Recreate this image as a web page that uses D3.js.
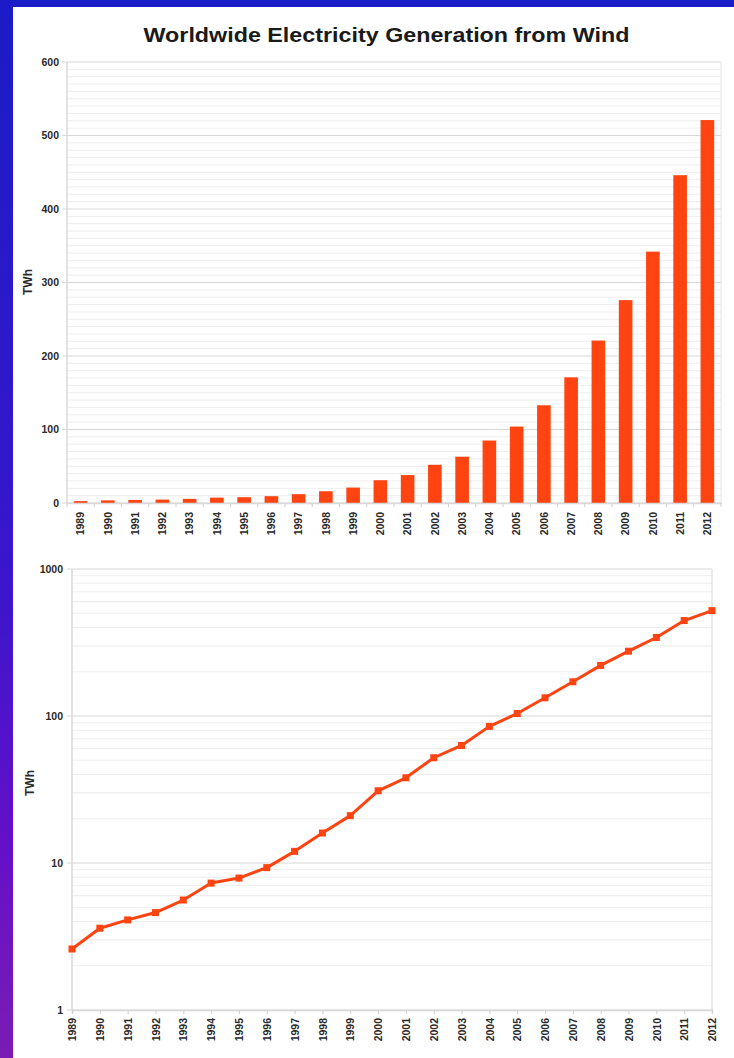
<!DOCTYPE html>
<html>
<head>
<meta charset="utf-8">
<script src="https://cdn.jsdelivr.net/npm/d3@7"></script>
<style>
  html, body { margin: 0; padding: 0; }
  body { width: 734px; height: 1058px; overflow: hidden; }
  svg { display: block; }
</style>
</head>
<body>
<svg id="chart" width="734" height="1058"></svg>
<script>
// Worldwide wind electricity generation, TWh per year
const years = ["1989","1990","1991","1992","1993","1994","1995","1996","1997","1998","1999","2000",
               "2001","2002","2003","2004","2005","2006","2007","2008","2009","2010","2011","2012"];
const generationTWh = [2.6, 3.6, 4.1, 4.6, 5.6, 7.3, 7.9, 9.3, 12.0, 16.0, 21.0, 31.0,
                       38.0, 52.0, 63.0, 85.0, 104.0, 133.0, 171.0, 221.0, 276.0, 342.0, 446.0, 521.0];
const linearTicks = [0, 100, 200, 300, 400, 500, 600];
const logTicks = [1, 10, 100, 1000];

const svg = d3.select("#chart");
const W = 734, H = 1058;
const accent = "#ff4411";
const labelColor = "#2a2a2a";
const font = "Liberation Sans, Arial, sans-serif";
const tickFont = 10.5;

// Frame: blue-to-violet gradient behind a white panel
const defs = svg.append("defs");
const grad = defs.append("linearGradient").attr("id", "frame")
  .attr("x1", 0).attr("y1", 0).attr("x2", 0).attr("y2", 1);
grad.append("stop").attr("offset", "0%").attr("stop-color", "#1a1cc8");
grad.append("stop").attr("offset", "55%").attr("stop-color", "#3a16cc");
grad.append("stop").attr("offset", "80%").attr("stop-color", "#6410c8");
grad.append("stop").attr("offset", "100%").attr("stop-color", "#7a1cb4");
svg.append("rect").attr("width", W).attr("height", H).attr("fill", "url(#frame)");
svg.append("rect").attr("x", 13).attr("y", 7).attr("width", W - 13).attr("height", H - 7).attr("fill", "#fff");

// Title, set slightly wide
svg.append("text")
  .attr("transform", "translate(386.5,42) scale(1.165,1)")
  .attr("text-anchor", "middle")
  .attr("font-family", font)
  .attr("font-weight", "bold").attr("font-size", 20)
  .attr("fill", "#1a1a1a")
  .text("Worldwide Electricity Generation from Wind");

// ---------- Linear bar chart ----------
const upper = { left: 67, right: 721, top: 62, bottom: 503 };
const xBand = d3.scaleBand().domain(years).range([upper.left, upper.right]).paddingInner(0.5).paddingOuter(0.25);
const yLin = d3.scaleLinear().domain([0, 600]).range([upper.bottom, upper.top]);

const g1 = svg.append("g");
// minor gridlines every 10 TWh
g1.append("g").selectAll("line").data(d3.range(10, 600, 10).filter(v => v % 100 !== 0))
  .join("line")
  .attr("x1", upper.left).attr("x2", upper.right)
  .attr("y1", d => yLin(d)).attr("y2", d => yLin(d))
  .attr("stroke", "#eeeeee").attr("stroke-width", 1);
// major gridlines
g1.append("g").selectAll("line").data(linearTicks)
  .join("line")
  .attr("x1", upper.left - 5).attr("x2", upper.right)
  .attr("y1", d => yLin(d)).attr("y2", d => yLin(d))
  .attr("stroke", "#d8d8d8").attr("stroke-width", 1.2);
// plot border lines
g1.append("line").attr("x1", upper.left).attr("x2", upper.left).attr("y1", upper.top).attr("y2", upper.bottom)
  .attr("stroke", "#d8d8d8").attr("stroke-width", 1.5);
g1.append("line").attr("x1", upper.right).attr("x2", upper.right).attr("y1", upper.top).attr("y2", upper.bottom)
  .attr("stroke", "#e4e4e4").attr("stroke-width", 1);

// y-axis labels
const yAxis1 = d3.axisLeft(yLin).tickValues(linearTicks).tickSize(0).tickPadding(8);
g1.append("g").attr("transform", `translate(${upper.left},0)`).call(yAxis1)
  .call(g => g.select(".domain").remove())
  .selectAll("text")
  .attr("font-family", font).attr("font-weight", "bold").attr("font-size", tickFont).attr("fill", labelColor);

// bars
g1.append("g").selectAll("rect").data(years)
  .join("rect")
  .attr("x", d => xBand(d))
  .attr("width", xBand.bandwidth())
  .attr("y", (d, i) => yLin(generationTWh[i]))
  .attr("height", (d, i) => yLin(0) - yLin(generationTWh[i]))
  .attr("fill", accent);

// x-axis: ticks between categories, labels under bars
const step = xBand.step();
g1.append("g").selectAll("line").data(d3.range(years.length + 1))
  .join("line")
  .attr("x1", i => upper.left + i * step).attr("x2", i => upper.left + i * step)
  .attr("y1", upper.bottom).attr("y2", upper.bottom + 4)
  .attr("stroke", "#cfcfcf");
const xAxis1 = d3.axisBottom(xBand).tickSize(0).tickPadding(0);
g1.append("g").attr("transform", `translate(0,${upper.bottom})`).call(xAxis1)
  .call(g => g.select(".domain").attr("stroke", "#d8d8d8").attr("stroke-width", 1.5))
  .selectAll("text")
  .attr("font-family", font).attr("font-weight", "bold").attr("font-size", tickFont).attr("fill", labelColor)
  .attr("text-anchor", "end")
  .attr("dy", "0.35em")
  .attr("transform", "translate(0,9) rotate(-90)")
  .attr("x", 0).attr("y", 0);

svg.append("text")
  .attr("transform", `translate(32,282) rotate(-90)`)
  .attr("text-anchor", "middle")
  .attr("font-family", font).attr("font-weight", "bold").attr("font-size", 12).attr("fill", labelColor)
  .text("TWh");

// ---------- Logarithmic line chart ----------
const lower = { left: 72, right: 712, top: 569, bottom: 1010 };
const xPt = d3.scalePoint().domain(years).range([lower.left, lower.right]);
const yLog = d3.scaleLog().domain([1, 1000]).range([lower.bottom, lower.top]);

const g2 = svg.append("g");
const minorLog = [];
[1, 10, 100].forEach(dec => { for (let k = 2; k <= 9; k++) minorLog.push(dec * k); });
g2.append("g").selectAll("line").data(minorLog)
  .join("line")
  .attr("x1", lower.left).attr("x2", lower.right)
  .attr("y1", d => yLog(d)).attr("y2", d => yLog(d))
  .attr("stroke", "#eeeeee").attr("stroke-width", 1.2);
g2.append("g").selectAll("line").data(logTicks)
  .join("line")
  .attr("x1", lower.left - 5).attr("x2", lower.right)
  .attr("y1", d => yLog(d)).attr("y2", d => yLog(d))
  .attr("stroke", "#d8d8d8").attr("stroke-width", 1.2);
g2.append("line").attr("x1", lower.left).attr("x2", lower.left).attr("y1", lower.top).attr("y2", lower.bottom)
  .attr("stroke", "#d8d8d8").attr("stroke-width", 1.5);
g2.append("line").attr("x1", lower.right).attr("x2", lower.right).attr("y1", lower.top).attr("y2", lower.bottom)
  .attr("stroke", "#e0e0e0").attr("stroke-width", 1.2);

const yAxis2 = d3.axisLeft(yLog).tickValues(logTicks).tickFormat(d3.format("d")).tickSize(0).tickPadding(9);
g2.append("g").attr("transform", `translate(${lower.left},0)`).call(yAxis2)
  .call(g => g.select(".domain").remove())
  .selectAll("text")
  .attr("font-family", font).attr("font-weight", "bold").attr("font-size", tickFont).attr("fill", labelColor);

const xAxis2 = d3.axisBottom(xPt).tickSize(4).tickPadding(0);
g2.append("g").attr("transform", `translate(0,${lower.bottom})`).call(xAxis2)
  .call(g => g.select(".domain").attr("stroke", "#d8d8d8").attr("stroke-width", 1.5))
  .call(g => g.selectAll(".tick line").attr("stroke", "#cfcfcf"))
  .selectAll("text")
  .attr("font-family", font).attr("font-weight", "bold").attr("font-size", tickFont).attr("fill", labelColor)
  .attr("text-anchor", "end")
  .attr("dy", "0.35em")
  .attr("transform", "translate(0,8) rotate(-90)")
  .attr("x", 0).attr("y", 0);

const line = d3.line()
  .x((d, i) => xPt(years[i]))
  .y(d => yLog(d));
g2.append("path").datum(generationTWh)
  .attr("d", line)
  .attr("fill", "none")
  .attr("stroke", accent).attr("stroke-width", 3)
  .attr("stroke-linejoin", "round");
g2.append("g").selectAll("rect").data(generationTWh)
  .join("rect")
  .attr("x", (d, i) => xPt(years[i]) - 3.5)
  .attr("y", d => yLog(d) - 3.5)
  .attr("width", 7).attr("height", 7)
  .attr("fill", accent);

svg.append("text")
  .attr("transform", `translate(34,783) rotate(-90)`)
  .attr("text-anchor", "middle")
  .attr("font-family", font).attr("font-weight", "bold").attr("font-size", 12).attr("fill", labelColor)
  .text("TWh");
</script>
</body>
</html>
